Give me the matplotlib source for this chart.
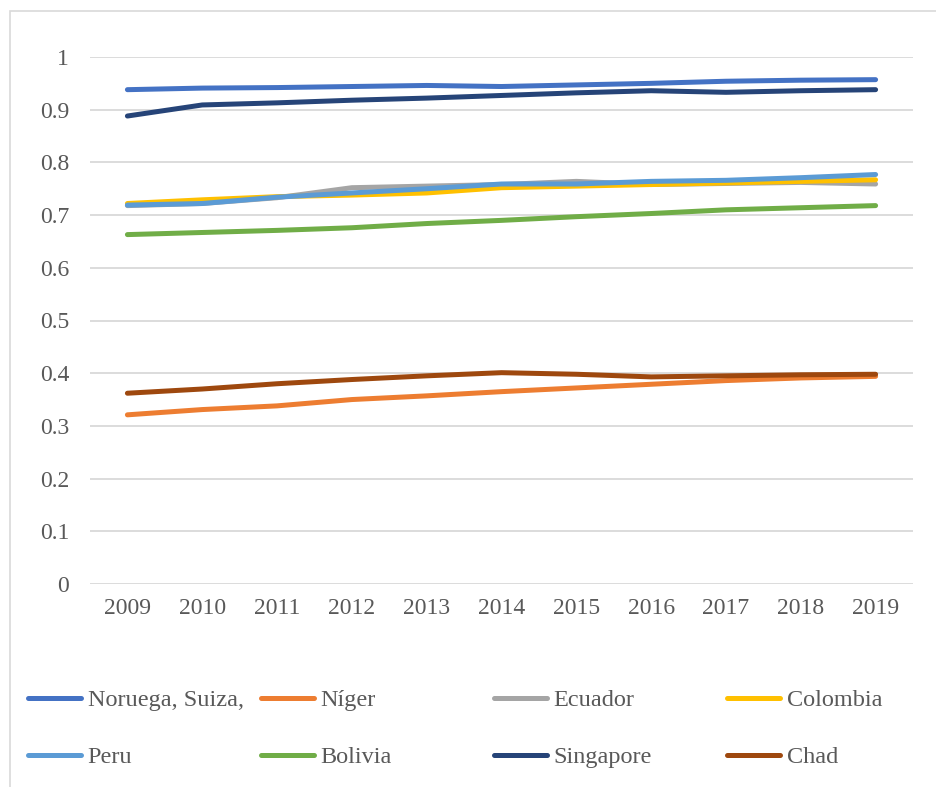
import matplotlib
matplotlib.use('Agg')
from matplotlib import pyplot as plt
from matplotlib.patches import Rectangle

plt.rcParams['font.family'] = ['Liberation Serif', 'DejaVu Serif']

years = ['2009', '2010', '2011', '2012', '2013', '2014', '2015', '2016', '2017', '2018', '2019']

noruega = [0.938, 0.941, 0.942, 0.944, 0.946, 0.944, 0.947, 0.950, 0.954, 0.956, 0.957]
niger = [0.321, 0.331, 0.338, 0.350, 0.357, 0.365, 0.372, 0.379, 0.386, 0.391, 0.394]
ecuador = [0.718, 0.722, 0.733, 0.752, 0.755, 0.758, 0.764, 0.758, 0.760, 0.762, 0.759]
colombia = [0.722, 0.729, 0.735, 0.738, 0.742, 0.752, 0.755, 0.758, 0.761, 0.764, 0.767]
peru = [0.719, 0.722, 0.734, 0.742, 0.750, 0.759, 0.759, 0.764, 0.766, 0.771, 0.777]
bolivia = [0.663, 0.667, 0.671, 0.676, 0.684, 0.690, 0.697, 0.703, 0.710, 0.714, 0.718]
singapore = [0.888, 0.909, 0.913, 0.918, 0.922, 0.927, 0.932, 0.936, 0.933, 0.936, 0.938]
chad = [0.362, 0.370, 0.380, 0.388, 0.395, 0.401, 0.398, 0.393, 0.395, 0.397, 0.398]

series = [
    ('Noruega, Suiza,', noruega, '#4472C4'),
    ('Níger', niger, '#ED7D31'),
    ('Ecuador', ecuador, '#A5A5A5'),
    ('Colombia', colombia, '#FFC000'),
    ('Peru', peru, '#5B9BD5'),
    ('Bolivia', bolivia, '#70AD47'),
    ('Singapore', singapore, '#264478'),
    ('Chad', chad, '#9E480E'),
]

W, H = 937, 787
fig = plt.figure(figsize=(W / 100, H / 100), dpi=100)
ax = fig.add_axes([90 / W, 1 - 584 / H, 823 / W, 527 / H])

x = range(len(years))
handles = []
for name, vals, col in series:
    ln, = ax.plot(x, vals, color=col, lw=3.6, solid_capstyle='round', label=name)
    handles.append(ln)

ax.set_xlim(-0.5, len(years) - 0.5)
ax.set_ylim(0, 1)
ax.set_yticks([i / 10 for i in range(11)])
ax.set_yticklabels(['0', '0.1', '0.2', '0.3', '0.4', '0.5', '0.6', '0.7', '0.8', '0.9', '1'])
ax.set_xticks(list(x))
ax.set_xticklabels(years)
ax.grid(axis='y', color='#D9D9D9', lw=1.3)
ax.set_axisbelow(True)
for s in ax.spines.values():
    s.set_visible(False)
ax.tick_params(axis='both', length=0, labelsize=17, colors='#595959')
ax.tick_params(axis='y', pad=15)
ax.tick_params(axis='x', pad=10)

# leyenda en 4 columnas de igual ancho
col_x = [28, 261, 494, 727]
for i, cx in enumerate(col_x):
    hs = [handles[i], handles[i + 4]]
    fig.legend(hs, [h.get_label() for h in hs], loc='upper left',
               bbox_to_anchor=(cx / W, 1 - 689 / H), frameon=False,
               prop={'size': 17.5}, labelcolor='#595959', handlelength=2.2,
               handletextpad=0.25, labelspacing=1.45, borderpad=0,
               borderaxespad=0)

fig.patches.append(Rectangle((10 / W, -0.1), 1.2, 1.1 - 11 / H, transform=fig.transFigure,
                             fill=False, edgecolor='#D9D9D9', lw=1.2))

fig.savefig('out.png', dpi=100)
